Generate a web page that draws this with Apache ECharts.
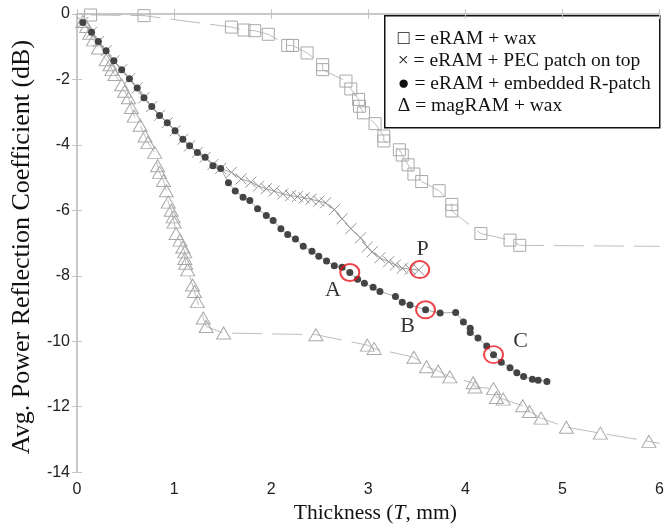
<!DOCTYPE html>
<html>
<head>
<meta charset="utf-8">
<script src="https://cdn.jsdelivr.net/npm/echarts@6/dist/echarts.min.js"></script>
<style>
  html, body { margin: 0; padding: 0; background: #ffffff; }
  #chart { width: 667px; height: 529px; }
</style>
</head>
<body>
<div id="chart"></div>
<script>
// eRAM + wax (open squares)
const sqX = [0.14, 0.69, 1.59, 1.72, 1.83, 1.97, 2.17, 2.22, 2.37, 2.53, 2.53, 2.77, 2.82, 2.90, 2.91, 2.95, 3.07, 3.16, 3.16, 3.32, 3.35, 3.41, 3.47, 3.55, 3.73, 3.86, 3.86, 4.16, 4.46, 4.56];
const sqY = [-0.03, -0.05, -0.40, -0.49, -0.51, -0.62, -0.96, -0.96, -1.19, -1.55, -1.70, -2.05, -2.29, -2.61, -2.82, -3.02, -3.35, -3.73, -3.88, -4.15, -4.31, -4.61, -4.89, -5.12, -5.40, -5.82, -6.02, -6.71, -6.91, -7.07];
const sqCurveEnd = [6.0, -7.10];

// eRAM + PEC patch on top (crosses)
const crX = [0.06, 0.15, 0.22, 0.30, 0.38, 0.46, 0.54, 0.62, 0.69, 0.77, 0.85, 0.93, 1.01, 1.09, 1.16, 1.24, 1.32, 1.40, 1.48, 1.59, 1.69, 1.79, 1.87, 1.95, 2.03, 2.12, 2.20, 2.27, 2.34, 2.41, 2.49, 2.56, 2.65, 2.73, 2.82, 2.92, 2.99, 3.04, 3.12, 3.21, 3.28, 3.35, 3.43, 3.52];
const crY = [-0.26, -0.56, -0.84, -1.12, -1.43, -1.70, -1.98, -2.26, -2.56, -2.83, -3.10, -3.32, -3.57, -3.83, -4.03, -4.23, -4.38, -4.60, -4.72, -4.84, -5.04, -5.14, -5.26, -5.34, -5.41, -5.50, -5.55, -5.58, -5.62, -5.66, -5.72, -5.77, -5.98, -6.26, -6.56, -6.84, -7.12, -7.27, -7.45, -7.57, -7.67, -7.77, -7.80, -7.82];

// eRAM + embedded R-patch (filled dots)
const dotX = [0.06, 0.15, 0.22, 0.30, 0.38, 0.46, 0.54, 0.62, 0.69, 0.77, 0.85, 0.93, 1.01, 1.09, 1.16, 1.24, 1.32, 1.40, 1.48, 1.56, 1.63, 1.71, 1.78, 1.86, 1.95, 2.02, 2.10, 2.17, 2.25, 2.33, 2.42, 2.49, 2.57, 2.65, 2.73, 2.81, 2.89, 2.96, 3.05, 3.12, 3.28, 3.35, 3.43, 3.59, 3.74, 3.90, 3.98, 4.05, 4.05, 4.13, 4.22, 4.29, 4.37, 4.46, 4.53, 4.60, 4.69, 4.75, 4.84];
const dotY = [-0.26, -0.56, -0.84, -1.12, -1.43, -1.70, -1.98, -2.26, -2.56, -2.83, -3.10, -3.32, -3.57, -3.83, -4.03, -4.23, -4.38, -4.64, -4.72, -5.16, -5.41, -5.60, -5.70, -5.95, -6.16, -6.31, -6.56, -6.74, -6.88, -7.10, -7.25, -7.40, -7.55, -7.69, -7.74, -7.90, -8.11, -8.23, -8.35, -8.48, -8.63, -8.81, -8.89, -9.04, -9.14, -9.12, -9.41, -9.60, -9.73, -9.90, -10.15, -10.41, -10.64, -10.81, -10.96, -11.08, -11.16, -11.19, -11.23];

// magRAM + wax (open triangles)
const triX = [0.06, 0.10, 0.13, 0.17, 0.22, 0.30, 0.34, 0.36, 0.39, 0.46, 0.49, 0.53, 0.56, 0.59, 0.65, 0.70, 0.73, 0.80, 0.83, 0.85, 0.89, 0.92, 0.94, 0.97, 0.99, 1.00, 1.02, 1.06, 1.09, 1.11, 1.11, 1.12, 1.14, 1.19, 1.21, 1.24, 1.30, 1.33, 1.51, 2.46, 2.99, 3.06, 3.47, 3.60, 3.72, 3.84, 4.08, 4.10, 4.29, 4.32, 4.39, 4.59, 4.66, 4.78, 5.04, 5.39, 5.89];
const triY = [-0.23, -0.38, -0.59, -0.79, -1.04, -1.40, -1.55, -1.70, -1.85, -2.16, -2.36, -2.56, -2.86, -3.12, -3.40, -3.73, -3.93, -4.23, -4.64, -4.84, -5.09, -5.40, -5.75, -6.00, -6.20, -6.36, -6.71, -6.91, -7.12, -7.27, -7.47, -7.62, -7.82, -8.28, -8.48, -8.79, -9.29, -9.55, -9.75, -9.80, -10.12, -10.22, -10.49, -10.78, -10.91, -11.09, -11.27, -11.40, -11.45, -11.72, -11.77, -11.97, -12.15, -12.35, -12.63, -12.81, -13.06];
const triCurveEnd = [6.0, -13.12];

// highlighted design points
const hlNames = ['A', 'P', 'B', 'C'];
const hlX = [2.81, 3.53, 3.59, 4.29];
const hlY = [-7.90, -7.81, -9.04, -10.41];

// axis ticks
const xTicks = [0, 1, 2, 3, 4, 5, 6];
const yTicks = [0, -2, -4, -6, -8, -10, -12, -14];

const legendLines = [
  '\u25A1 = eRAM + wax',
  '\u00D7 = eRAM + PEC patch on top',
  '\u25CF = eRAM + embedded R-patch',
  '\u0394 = magRAM + wax'
];

const zip = (xs, ys) => xs.map((x, i) => [x, ys[i]]);
const serif = 'Liberation Serif, Times New Roman, serif';
const sans = 'Liberation Sans, Arial, sans-serif';
const axisGray = '#c4c4c4';
const labelShift = { A: [-17, 18], P: [3, -20], B: [-18, 16], C: [27, -13] };

const sqData = zip(sqX, sqY).concat([{ value: sqCurveEnd, symbol: 'none' }]);
const triData = zip(triX, triY).concat([{ value: triCurveEnd, symbol: 'none' }]);

const hlData = hlNames.map((n, i) => ({
  name: n,
  value: [hlX[i], hlY[i]],
  label: { offset: labelShift[n] }
}));

const chart = echarts.init(document.getElementById('chart'), null, { renderer: 'canvas' });

const baseAxis = {
  min: 0, max: 6, interval: 1,
  axisLine: { show: true, lineStyle: { color: axisGray, width: 1.5 } },
  axisTick: { show: true, inside: true, length: 5, lineStyle: { color: axisGray } },
  splitLine: { show: false }
};

chart.setOption({
  animation: false,
  backgroundColor: '#ffffff',
  grid: { left: 77, top: 14, right: 5, bottom: 54, containLabel: false },
  xAxis: [
    Object.assign({}, baseAxis, {
      type: 'value', position: 'bottom',
      name: '{n|Thickness (}{i|T}{n|, mm)}',
      nameLocation: 'middle', nameGap: 28,
      nameTextStyle: {
        padding: [0, 0, 0, 14],
        rich: {
          n: { fontFamily: serif, fontSize: 21.5, color: '#111' },
          i: { fontFamily: serif, fontSize: 21.5, fontStyle: 'italic', color: '#111' }
        }
      },
      axisLabel: {
        margin: 9, fontFamily: sans, fontSize: 16, color: '#222',
        formatter: v => (xTicks.includes(v) ? String(v) : '')
      }
    }),
    Object.assign({}, baseAxis, {
      type: 'value', position: 'top', axisLabel: { show: false }
    })
  ],
  yAxis: [
    {
      type: 'value', position: 'left', min: -14, max: 0, interval: 2,
      name: 'Avg. Power Reflection Coefficient (dB)',
      nameLocation: 'middle', nameGap: 42, nameRotate: 90,
      nameTextStyle: { fontFamily: serif, fontSize: 26, color: '#111', padding: [0, 8, 0, 0] },
      axisLine: { show: true, lineStyle: { color: axisGray, width: 1.5 } },
      axisTick: { show: true, inside: true, length: 5, lineStyle: { color: axisGray } },
      splitLine: { show: false },
      axisLabel: {
        margin: 7, fontFamily: sans, fontSize: 16, color: '#222',
        formatter: v => (yTicks.includes(v) ? String(v) : '')
      }
    },
    {
      type: 'value', position: 'right', min: -14, max: 0, interval: 2,
      axisLine: { show: true, lineStyle: { color: axisGray, width: 1.5 } },
      axisTick: { show: true, inside: true, length: 5, lineStyle: { color: axisGray } },
      splitLine: { show: false },
      axisLabel: { show: false }
    }
  ],
  series: [
    {
      name: 'eRAM + wax', type: 'line', data: sqData,
      symbol: 'rect', symbolSize: 12,
      itemStyle: { color: 'rgba(0,0,0,0)', borderColor: '#a9a9a9', borderWidth: 1 },
      lineStyle: { color: '#bdbdbd', width: 1, type: [30, 10] },
      z: 2
    },
    {
      name: 'magRAM + wax', type: 'line', data: triData,
      symbol: 'triangle', symbolSize: [14, 12],
      itemStyle: { color: 'rgba(0,0,0,0)', borderColor: '#a9a9a9', borderWidth: 1 },
      lineStyle: { color: '#bdbdbd', width: 1, type: [30, 10] },
      z: 2
    },
    {
      name: 'eRAM + PEC patch on top', type: 'line', data: zip(crX, crY),
      symbol: 'path://M0,0L10,10M10,0L0,10', symbolSize: 11,
      itemStyle: { color: 'rgba(0,0,0,0)', borderColor: '#959595', borderWidth: 1 },
      lineStyle: { color: '#a0a0a0', width: 1 },
      z: 3
    },
    {
      name: 'eRAM + embedded R-patch', type: 'line', data: zip(dotX, dotY),
      symbol: 'circle', symbolSize: 7,
      itemStyle: { color: '#444444', borderWidth: 0 },
      lineStyle: { color: '#a8a8a8', width: 1 },
      z: 4
    },
    {
      name: 'highlight', type: 'scatter', data: hlData,
      symbol: 'circle', symbolSize: [19, 17],
      itemStyle: { color: 'rgba(0,0,0,0)', borderColor: '#e8141b', borderWidth: 2 },
      label: {
        show: true, position: 'inside', formatter: p => p.name,
        fontFamily: serif, fontSize: 22, color: '#000',
        textBorderWidth: 0, textShadowBlur: 0
      },
      z: 5
    }
  ],
  graphic: [
    {
      type: 'group', left: 384, top: 15,
      children: [
        {
          type: 'rect', shape: { x: 0, y: 0, width: 275, height: 112 },
          style: { fill: '#ffffff', stroke: '#111', lineWidth: 1.5 }
        }
      ].concat(legendLines.map((t, i) => ({
        type: 'text', x: 13, y: 23 + i * 22.5,
        style: { text: t, fontFamily: serif, fontSize: 19.5, fill: '#111', verticalAlign: 'middle' }
      })))
    }
  ]
});
</script>
</body>
</html>
